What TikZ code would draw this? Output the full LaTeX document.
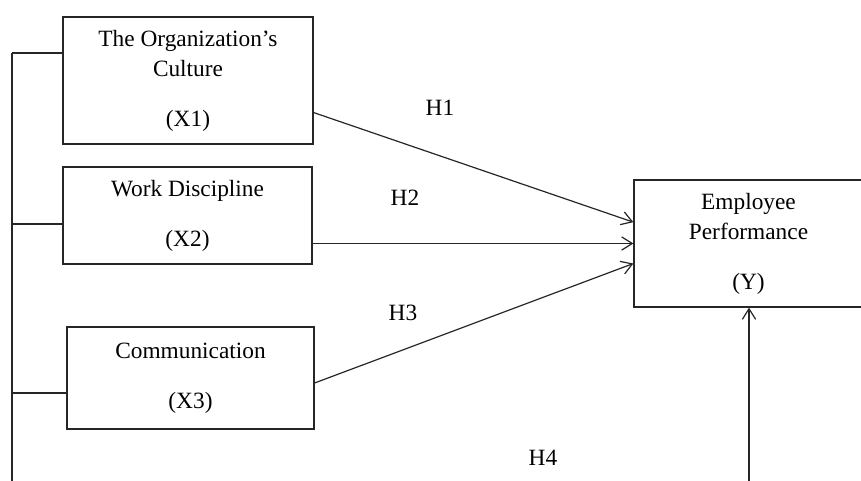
\documentclass[tikz,border=0pt]{standalone}
\usepackage{fontspec}
\setmainfont{Liberation Serif}
\usetikzlibrary{arrows.meta,calc}

\begin{document}
\begin{tikzpicture}[x=0.75pt,y=-0.75pt,
  box/.style={draw=black!85,line width=0.9pt,align=center,inner sep=0pt,
    font=\fontsize{17.5}{22.5}\selectfont},
  hyp/.style={font=\fontsize{17.5}{22.5}\selectfont},
  arr/.style={draw=black!85,line width=0.9pt,-{Straight Barb[length=8pt,width=10pt]}},
  bus/.style={draw=black!85,line width=0.9pt}]
\useasboundingbox (0,0) rectangle (861,481);
\node[box,minimum width=187.5pt,minimum height=95.25pt] (X1) at (188,80.5) {The Organization’s\\Culture\\[15pt](X1)};
\node[box,minimum width=186.75pt,minimum height=72.75pt] (X2) at (187.5,215.5) {Work Discipline\\[15pt](X2)};
\node[box,minimum width=185.25pt,minimum height=76.5pt] (X3) at (190.5,378) {Communication\\[15pt](X3)};
\node[box,minimum width=171.75pt,minimum height=95.25pt] (Y) at (748.5,243.5) {Employee\\Performance\\[15pt](Y)};
\node[hyp] (H1) at (440,108) {H1};
\node[hyp] (H2) at (405,198) {H2};
\node[hyp] (H3) at (403,313) {H3};
\node[hyp] (H4) at (543,458) {H4};
\coordinate (b1) at (12,53);
\coordinate (b2) at (12,224);
\coordinate (b3) at (12,393);
\coordinate (b4) at (12,485);
\coordinate (foot) at (749,485);
\draw[bus] (b1) -- (b4);
\draw[bus] (b1) -- (b1 -| X1.west);
\draw[bus] (b2) -- (b2 -| X2.west);
\draw[bus] (b3) -- (b3 -| X3.west);
\draw[arr] ($(X1.south east)!0.25!(X1.north east)$) -- ([yshift=16pt]Y.west);
\draw[arr] (X2.east |- Y.west) -- (Y.west);
\draw[arr] ([yshift=-3.75pt]X3.east) -- ([yshift=-15pt]Y.west);
\draw[arr] (foot) -- (foot |- Y.south);
\end{tikzpicture}
\end{document}
